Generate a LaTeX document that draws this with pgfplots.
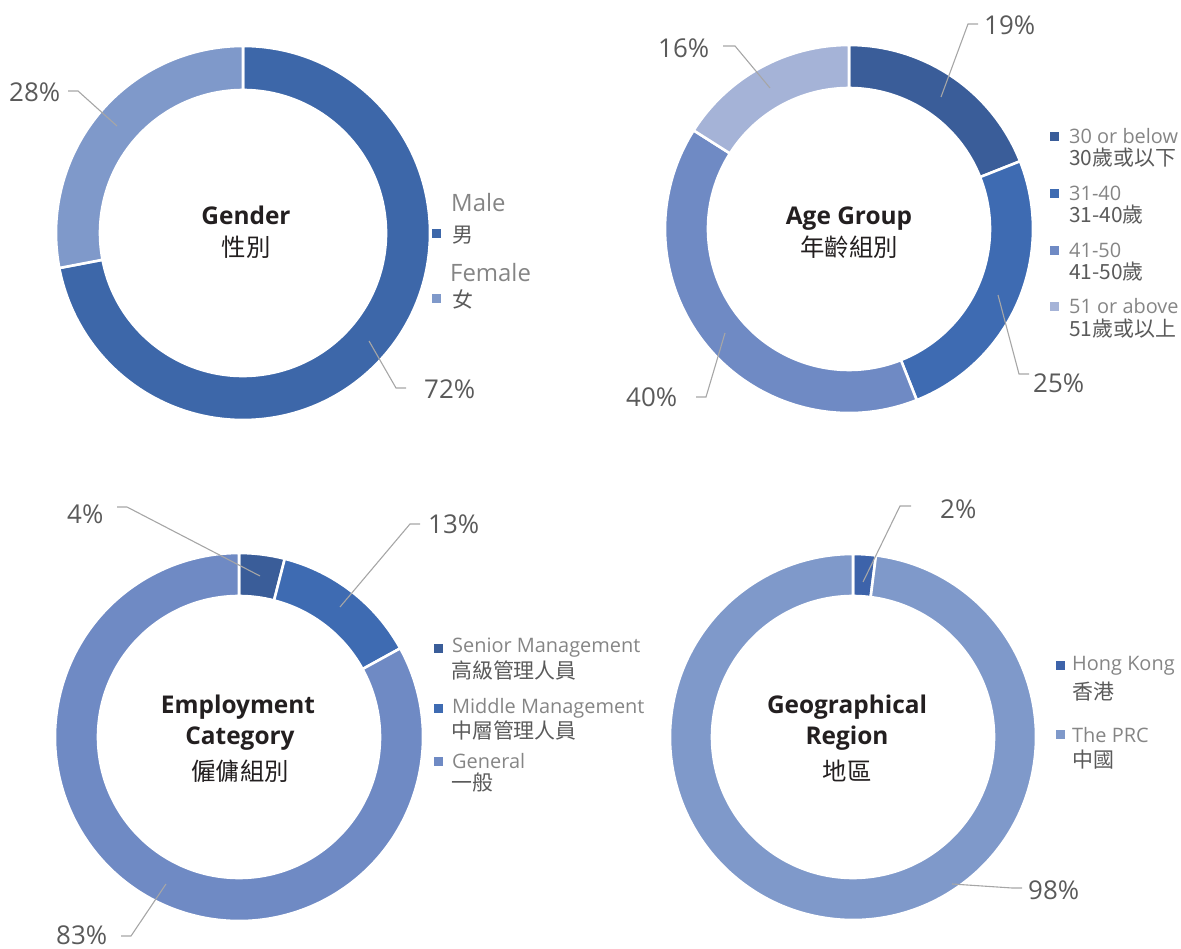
\documentclass[border=0pt]{standalone}
\usepackage{pgfplots}
\pgfplotsset{compat=1.18}
\usepackage{pgfplotstable}
\usepackage{fontspec}
\setmainfont{Open Sans}
\newfontfamily\cjk{Noto Sans CJK TC}

\definecolor{cMale}{HTML}{3D67A9}
\definecolor{cFemale}{HTML}{7F99CA}
\definecolor{cDark}{HTML}{3A5D99}
\definecolor{cMid}{HTML}{3E6BB2}
\definecolor{cLight}{HTML}{6F8AC4}
\definecolor{cPale}{HTML}{A5B3D7}
\definecolor{cHK}{HTML}{3D63AA}
\definecolor{cPRC}{HTML}{7F99CA}
\definecolor{pctgray}{HTML}{5A5A5A}
\definecolor{leggray}{HTML}{858585}
\definecolor{cjkgray}{HTML}{5A5A5A}
\definecolor{linegray}{HTML}{A6A6A6}
\definecolor{titlek}{HTML}{231F20}

\pgfplotstableread{
v c
72 cMale
28 cFemale
}\tGender
\pgfplotstableread{
v c
19 cDark
25 cMid
40 cLight
16 cPale
}\tAge
\pgfplotstableread{
v c
4 cDark
13 cMid
83 cLight
}\tEmp
\pgfplotstableread{
v c
2 cHK
98 cPRC
}\tGeo

% #1 cx, #2 cy (pixel, down), #3 outer R, #4 inner r, #5 table
\newcommand\donut[5]{%
  \pgfplotstablegetrowsof{#5}%
  \pgfmathtruncatemacro\nrows{\pgfplotsretval-1}%
  \gdef\cum{0}%
  \foreach \i in {0,...,\nrows}{%
    \pgfplotstablegetelem{\i}{v}\of{#5}\let\val\pgfplotsretval
    \pgfplotstablegetelem{\i}{c}\of{#5}\let\col\pgfplotsretval
    \pgfmathsetmacro\aa{90-3.6*\cum}%
    \pgfmathsetmacro\ab{90-3.6*(\cum+\val)}%
    \fill[fill=\col, draw=white, line width=2.6pt, line join=miter]
      (axis cs:{#1+#3*cos(\aa)},{-#2+#3*sin(\aa)})
      arc[start angle=\aa, end angle=\ab, radius=#3bp]
      -- (axis cs:{#1+#4*cos(\ab)},{-#2+#4*sin(\ab)})
      arc[start angle=\ab, end angle=\aa, radius=#4bp] -- cycle;
    \pgfmathsetmacro\newcum{\cum+\val}%
    \xdef\cum{\newcum}%
  }%
}

\newcommand\pct[3]{\node[anchor=west, inner sep=0pt, text=pctgray, font=\fontsize{26}{28}\selectfont] at (axis cs:#1,-#2) {#3};}
\newcommand\lead[6]{\draw[linegray, line width=1.1pt] (axis cs:#1,-#2) -- (axis cs:#3,-#4) -- (axis cs:#5,-#6);}
\newcommand\lsq[3]{\fill[#3] (axis cs:#1-4.5,-#2-4.5) rectangle (axis cs:#1+4.5,-#2+4.5);}
\newcommand\ltxt[4]{\node[anchor=west, inner sep=0pt, text=leggray, font=\fontsize{#4}{#4}\selectfont] at (axis cs:#1,-#2) {#3};}
\newcommand\ctxt[4]{\node[anchor=west, inner sep=0pt, text=cjkgray, font=\cjk\fontsize{#4}{#4}\selectfont] at (axis cs:#1,-#2) {#3};}
\newcommand\ttl[3]{\node[anchor=base, inner sep=0pt, text=titlek, font=\bfseries\fontsize{24.5}{24.5}\selectfont] at (axis cs:#1,-#2) {#3};}
\newcommand\cttl[3]{\node[inner sep=0pt, text=titlek, font=\cjk\fontsize{24.5}{24.5}\selectfont] at (axis cs:#1,-#2) {#3};}

\begin{document}
\begin{tikzpicture}
\begin{axis}[
  x=1bp, y=1bp, xmin=0, xmax=1181, ymin=-948, ymax=0,
  hide axis, scale only axis, clip=false]
\pgfplotsextra{%
  \path (axis cs:0,0) rectangle (axis cs:1181,-948);
  \donut{243}{233}{187}{143}{\tGender}
  \donut{849}{229}{184}{141}{\tAge}
  \donut{239}{737}{184}{141}{\tEmp}
  \donut{853}{737}{183}{141}{\tGeo}
  % leader lines
  \lead{369}{341}{396}{388}{406}{388}
  \lead{117}{126}{78}{91}{68}{91}
  \lead{941}{97}{968}{24}{978}{24}
  \lead{770}{88}{735}{46}{723}{46}
  \lead{998}{295}{1019}{374}{1029}{374}
  \lead{725}{333}{706}{397}{696}{397}
  \lead{260}{576}{127}{507}{117}{507}
  \lead{340}{607}{410}{524}{420}{524}
  \lead{166}{884}{131}{936}{121}{936}
  \lead{863}{582}{900}{506}{911}{506}
  \lead{952}{884}{1012}{888}{1022}{888}
  % percent labels
  \pct{424}{389}{72\%}
  \pct{9}{92}{28\%}
  \pct{984}{25}{19\%}
  \pct{658}{48}{16\%}
  \pct{1033}{383}{25\%}
  \pct{626}{397}{40\%}
  \pct{67}{514}{4\%}
  \pct{428}{524}{13\%}
  \pct{56}{935}{83\%}
  \pct{940}{509}{2\%}
  \pct{1028}{890}{98\%}
  % titles
  \ttl{246}{225}{Gender}
  \cttl{246}{247}{性別}
  \ttl{849}{225}{Age Group}
  \cttl{849}{247}{年齡組別}
  \ttl{238}{714}{Employment}
  \ttl{240}{745}{Category}
  \cttl{240}{771}{僱傭組別}
  \ttl{847}{714}{Geographical}
  \ttl{847}{745}{Region}
  \cttl{847}{771}{地區}
  % legend gender
  \lsq{436}{234}{cMale}
  \ltxt{451}{203}{Male}{24}
  \ctxt{452}{235}{男}{21}
  \lsq{436}{299}{cFemale}
  \ltxt{450}{273}{Female}{24}
  \ctxt{452}{299}{女}{21}
  % legend age
  \lsq{1054}{137}{cDark}
  \ltxt{1069}{136}{30 or below}{20}
  \ctxt{1069}{158}{30歲或以下}{21}
  \lsq{1054}{194}{cMid}
  \ltxt{1069}{193}{31-40}{20}
  \ctxt{1069}{215}{31-40歲}{21}
  \lsq{1054}{251}{cLight}
  \ltxt{1069}{250}{41-50}{20}
  \ctxt{1069}{272}{41-50歲}{21}
  \lsq{1054}{307}{cPale}
  \ltxt{1069}{306}{51 or above}{20}
  \ctxt{1069}{329}{51歲或以上}{21}
  % legend employment
  \lsq{438}{649}{cDark}
  \ltxt{452}{648}{Senior Management}{20}
  \ctxt{451}{670}{高級管理人員}{21}
  \lsq{438}{709}{cMid}
  \ltxt{452}{708}{Middle Management}{20}
  \ctxt{451}{730}{中層管理人員}{21}
  \lsq{438}{762}{cLight}
  \ltxt{452}{761}{General}{20}
  \ctxt{451}{783}{一般}{21}
  % legend geo
  \lsq{1060}{666}{cHK}
  \ltxt{1072}{666}{Hong Kong}{20}
  \ctxt{1072}{692}{香港}{21}
  \lsq{1060}{735}{cPRC}
  \ltxt{1072}{735}{The PRC}{20}
  \ctxt{1072}{760}{中國}{21}
}
\end{axis}
\end{tikzpicture}
\end{document}
